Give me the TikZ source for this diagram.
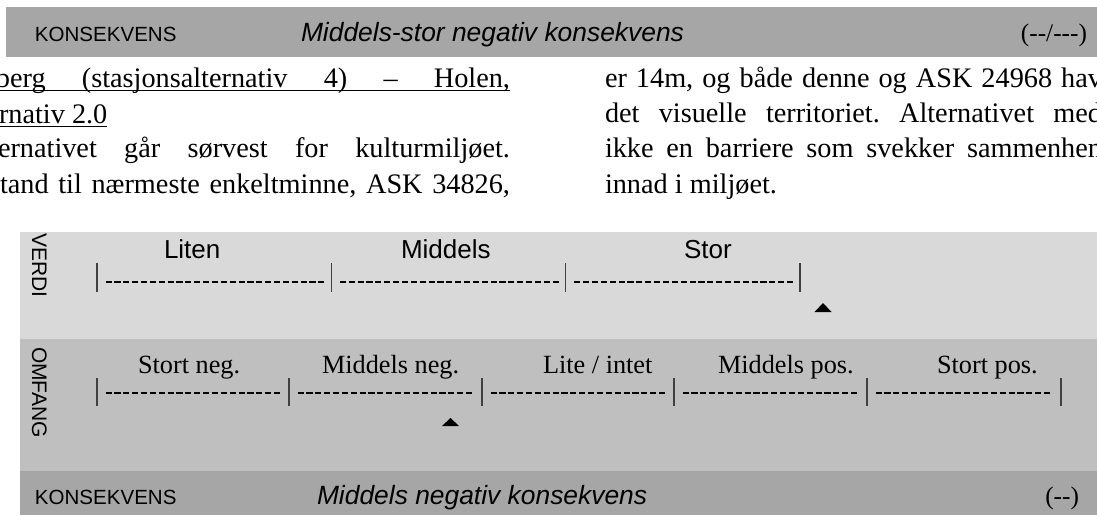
\documentclass[tikz,border=0pt]{standalone}
\usepackage{fontspec}
\setmainfont{Liberation Serif}
\newfontfamily\arialf{Liberation Sans}
\definecolor{bardark}{HTML}{A6A6A6}
\definecolor{bandlight}{HTML}{D9D9D9}
\definecolor{bandmid}{HTML}{BFBFBF}
\definecolor{tickgray}{HTML}{404040}
\frenchspacing
\begin{document}
\begin{tikzpicture}[x=0.75pt,y=-0.75pt,
  every node/.style={inner sep=0pt,outer sep=0pt},
  bodytxt/.style={anchor=base west,font=\fontsize{21.2pt}{24pt}\selectfont},
  barsans/.style={anchor=base west,font=\arialf\fontsize{15.4pt}{18pt}\selectfont},
  barital/.style={anchor=base west,font=\arialf\itshape\fontsize{19.8pt}{22pt}\selectfont},
  barcode/.style={anchor=base east,font=\fontsize{19pt}{22pt}\selectfont},
  rotlbl/.style={anchor=base west,rotate=-90,font=\arialf\fontsize{15.75pt}{18pt}\selectfont},
  verdilbl/.style={anchor=base west,font=\arialf\fontsize{19.5pt}{22pt}\selectfont},
  omflbl/.style={anchor=base west,font=\fontsize{19.7pt}{22pt}\selectfont},
  tickln/.style={draw=tickgray,line width=1.1pt},
  dashline/.style={draw=black,line width=1.2pt,dash pattern=on 4.6pt off 2.05pt},
  uline/.style={draw=black,line width=1.1pt},
  marker/.style={fill=black}
]
\useasboundingbox (0,0) rectangle (1097,515);
\clip (0,0) rectangle (1097,515);

% header bar
\fill[bardark] (6,7) rectangle (1097,57);
\node[barsans] (k1) at (35,41.5) {KONSEKVENS};
\node[barital] (c1) at (301,41.5) {Middels-stor negativ konsekvens};
\node[barcode] (s1) at (1087,41.5) {(-{}-/-{}-{}-)};

% body text, left column
\node[bodytxt] (l1) at (-4,87) {\makebox[385.5pt][s]{berg (stasjonsalternativ 4) – Holen,}};
\node[bodytxt] (l2) at (-1,123) {rnativ 2.0};
\node[bodytxt] (l3) at (-2,157) {\makebox[384pt][s]{ernativet går sørvest for kulturmiljøet.}};
\node[bodytxt] (l4) at (0,193) {\makebox[382.5pt][s]{tand til nærmeste enkeltminne, ASK 34826,}};
\draw[uline] ([yshift=-2.5pt]l1.base west) -- ([yshift=-2.5pt]l1.base east);
\draw[uline] ([yshift=-2.5pt]l2.base west) -- ([yshift=-2.5pt]l2.base east);

% body text, right column
\node[bodytxt] (r1) at (605,87) {\makebox[372.75pt][s]{er 14m, og både denne og ASK 24968 hav}};
\node[bodytxt] (r2) at (605,122) {\makebox[372.75pt][s]{det visuelle territoriet. Alternativet med}};
\node[bodytxt] (r3) at (605,157) {\makebox[372.75pt][s]{ikke en barriere som svekker sammenhen}};
\node[bodytxt] (r4) at (605,193) {innad i miljøet.};

% scale bands
\fill[bandlight] (20,232) rectangle (1097,338.5);
\fill[bandmid] (20,338.5) rectangle (1097,471);
\fill[bardark] (20,471) rectangle (1097,515);

\node[rotlbl] (verdi) at (32,233) {VERDI};
\node[rotlbl] (omfang) at (32,347) {OMFANG};

% VERDI scale
\node[verdilbl] (vl1) at (164,258) {Liten};
\node[verdilbl] (vl2) at (401,258) {Middels};
\node[verdilbl] (vl3) at (684,258) {Stor};
\coordinate (v0) at (97,282);
\coordinate (v1) at (331.3,282);
\coordinate (v2) at (565.7,282);
\coordinate (v3) at (800,282);
\foreach \c in {v0,v1,v2,v3} {
  \draw[tickln] ([yshift=14.25pt]\c) -- ([yshift=-7.5pt]\c);
}
\foreach \c in {v0,v1,v2} {
  \draw[dashline] ([xshift=6.4pt]\c) -- ++(164.2pt,0pt);
}
\fill[marker] (823,303) -- (831.5,312) -- (814.5,312) -- cycle;

% OMFANG scale
\node[omflbl] (ol1) at (138,373) {Stort neg.};
\node[omflbl] (ol2) at (322,373) {Middels neg.};
\node[omflbl] (ol3) at (543,373) {Lite / intet};
\node[omflbl] (ol4) at (718,373) {Middels pos.};
\node[omflbl] (ol5) at (937,373) {Stort pos.};
\coordinate (o0) at (97,393);
\coordinate (o1) at (289,393);
\coordinate (o2) at (482,393);
\coordinate (o3) at (674,393);
\coordinate (o4) at (867,393);
\coordinate (o5) at (1061,393);
\foreach \c in {o0,o1,o2,o3,o4,o5} {
  \draw[tickln] ([yshift=11.25pt]\c) -- ([yshift=-9.75pt]\c);
}
\foreach \c in {o0,o1,o2,o3,o4} {
  \draw[dashline] ([xshift=6.4pt]\c) -- ++(131.6pt,0pt);
}
\fill[marker] (450.5,418) -- (459,426) -- (442,426) -- cycle;

% bottom bar
\node[barsans] (k2) at (35,504) {KONSEKVENS};
\node[barital] (c2) at (317,504) {Middels negativ konsekvens};
\node[barcode] (s2) at (1079,504) {(-{}-)};
\end{tikzpicture}
\end{document}
